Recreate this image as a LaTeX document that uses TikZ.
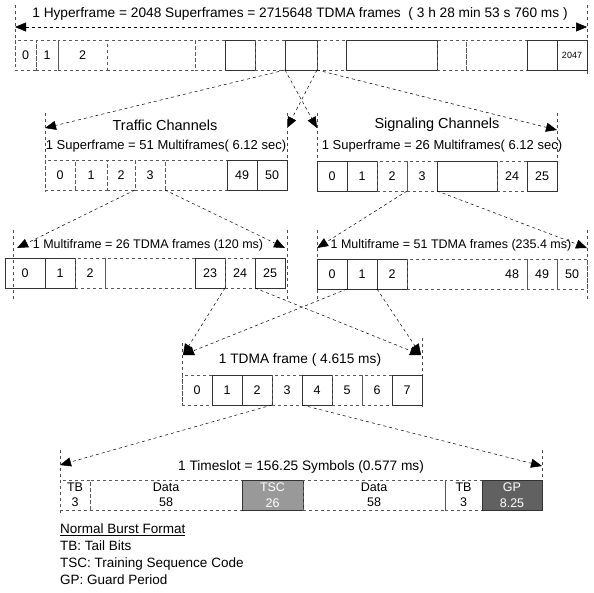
\documentclass[tikz,border=0pt]{standalone}
\usepackage{fontspec}
\setmainfont{Liberation Sans}
\usetikzlibrary{arrows.meta,positioning}
\tikzset{
  cell/.style={draw=black!80, line width=0.5pt, anchor=west, minimum height=30pt,
    inner sep=0pt, outer sep=0pt, font=\fontsize{12.5}{14}\selectfont},
  dcell/.style={cell, draw=black!65, dashed},
  burst/.style={cell, align=center, font=\fontsize{12.5}{15.5}\selectfont},
  head/.style={inner sep=1pt, font=\fontsize{#1}{#1}\selectfont},
  head/.default=13.5,
  bound/.style={draw=black!70, dashed, line width=0.4pt},
  arr/.style={-{Triangle[length=11pt,width=9pt]}, dashed, line width=0.5pt},
  darr/.style={{Triangle[length=11pt,width=9pt]}-{Triangle[length=11pt,width=9pt]}, dashed, line width=0.5pt}
}

\begin{document}
\begin{tikzpicture}[x=1pt, y=-1pt]
  \useasboundingbox (0,0) rectangle (594,592);

  % hyperframe
  \node[head=13.7] (hyp) at (300,14) {1 Hyperframe = 2048 Superframes = 2715648 TDMA frames \ ( 3 h 28 min 53 s 760 ms )};
  \coordinate (hypL) at (15,27);
  \coordinate (hypR) at (587,27);
  \draw[darr] (hypL) -- (hypR);
  \draw[bound] (15,5) -- (15,62);
  \draw[bound] (587,5) -- (587,75);
  \node[dcell, minimum width=21pt] (h0) at (15,55) {0};
  \node[dcell, minimum width=22pt, right=0pt of h0] (h1) {1};
  \node[dcell, minimum width=49pt, right=0pt of h1] (h2) {2};
  \node[dcell, minimum width=88pt, right=0pt of h2] (h3) {};
  \node[dcell, minimum width=30pt, right=0pt of h3] (h4) {};
  \node[cell, minimum width=30pt, right=0pt of h4] (h5) {};
  \node[dcell, minimum width=30pt, right=0pt of h5] (h6) {};
  \node[cell, minimum width=32pt, right=0pt of h6] (h7) {};
  \node[dcell, minimum width=29pt, right=0pt of h7] (h8) {};
  \node[cell, minimum width=91pt, right=0pt of h8] (h9) {};
  \node[dcell, minimum width=29pt, right=0pt of h9] (h10) {};
  \node[dcell, minimum width=61pt, right=0pt of h10] (h11) {};
  \node[cell, minimum width=30pt, right=0pt of h11] (h12) {};
  \node[cell, minimum width=30pt, right=0pt of h12, font=\fontsize{9}{10}\selectfont] (h13) {2047};

  \coordinate (tL) at (45,128);
  \coordinate (tR) at (287,128);
  \coordinate (sL) at (317,128);
  \coordinate (sR) at (557,130);
  \draw[arr] (h7.south west) -- (tL);
  \draw[arr] (h7.south west) -- (sL);
  \draw[arr] (h7.south east) -- (tR);
  \draw[arr] (h7.south east) -- (sR);

  % traffic superframe
  \draw[bound] (45,113) -- (45,192);
  \draw[bound] (287,113) -- (287,182);
  \node[head=14.5] (tch) at (165,125) {Traffic Channels};
  \node[head=13] (tsup) at (166,146) {1 Superframe = 51 Multiframes( 6.12 sec)};
  \node[dcell, minimum width=30pt] (t0) at (45,175) {0};
  \node[dcell, minimum width=32pt, right=0pt of t0] (t1) {1};
  \node[dcell, minimum width=28pt, right=0pt of t1] (t2) {2};
  \node[dcell, minimum width=30pt, right=0pt of t2] (t3) {3};
  \node[dcell, minimum width=62pt, right=0pt of t3] (t4) {};
  \node[cell, minimum width=30pt, right=0pt of t4] (t49) {49};
  \node[cell, minimum width=30pt, right=0pt of t49] (t50) {50};

  % signaling superframe
  \draw[bound] (317,113) -- (317,192);
  \draw[bound] (557,113) -- (557,192);
  \node[head=14.5] (sch) at (437,125) {Signaling Channels};
  \node[head=13] (ssup) at (442,146) {1 Superframe = 26 Multiframes( 6.12 sec)};
  \node[cell, minimum width=30pt] (s0) at (317,176) {0};
  \node[cell, minimum width=30pt, right=0pt of s0] (s1) {1};
  \node[dcell, minimum width=30pt, right=0pt of s1] (s2) {2};
  \node[dcell, minimum width=30pt, right=0pt of s2] (s3) {3};
  \node[cell, minimum width=60pt, right=0pt of s3] (s4) {};
  \node[dcell, minimum width=30pt, right=0pt of s4] (s24) {24};
  \node[cell, minimum width=30pt, right=0pt of s24] (s25) {25};

  \coordinate (mL) at (17,248);
  \coordinate (mR) at (285,248);
  \coordinate (nL) at (317,248);
  \coordinate (nR) at (587,248);
  \draw[arr] (t3.south west) -- (mL);
  \draw[arr] (t3.south east) -- (mR);
  \draw[arr] (s3.south west) -- (nL);
  \draw[arr] (s3.south east) -- (nR);

  % traffic multiframe
  \draw[bound] (13,230) -- (13,300);
  \draw[bound] (287,230) -- (287,300);
  \node[head=12.5] (tmul) at (148,245) {1 Multiframe = 26 TDMA frames (120 ms)};
  \node[cell, minimum width=40pt] (m0) at (5,273) {0};
  \node[cell, minimum width=30pt, right=0pt of m0] (m1) {1};
  \node[dcell, minimum width=30pt, right=0pt of m1] (m2) {2};
  \node[dcell, minimum width=90pt, right=0pt of m2] (m3) {};
  \node[cell, minimum width=30pt, right=0pt of m3] (m23) {23};
  \node[dcell, minimum width=30pt, right=0pt of m23] (m24) {24};
  \node[cell, minimum width=30pt, right=0pt of m24] (m25) {25};

  % signaling multiframe
  \draw[bound] (317,230) -- (317,300);
  \draw[bound] (587,230) -- (587,300);
  \node[head=12.5] (smul) at (451,245) {1 Multiframe = 51 TDMA frames (235.4 ms)};
  \node[cell, minimum width=30pt] (n0) at (317,274) {0};
  \node[cell, minimum width=30pt, right=0pt of n0] (n1) {1};
  \node[cell, minimum width=30pt, right=0pt of n1] (n2) {2};
  \node[dcell, minimum width=120pt, right=0pt of n2] (n3) {\hspace*{90pt}48};
  \node[dcell, minimum width=30pt, right=0pt of n3] (n49) {49};
  \node[dcell, minimum width=30pt, right=0pt of n49] (n50) {50};

  \coordinate (fL) at (183,355);
  \coordinate (fR) at (421,355);
  \draw[arr] (m24.south west) -- (fL);
  \draw[arr] (m24.south east) -- (fR);
  \draw[arr] (n1.south west) -- (fL);
  \draw[arr] (n1.south east) -- (fR);

  % TDMA frame
  \draw[bound] (182,343) -- (182,407);
  \draw[bound] (422,338) -- (422,407);
  \node[head=13.7] (tdma) at (300,360) {1 TDMA frame ( 4.615 ms)};
  \node[dcell, minimum width=30pt] (f0) at (182,390) {0};
  \node[cell, minimum width=30pt, right=0pt of f0] (f1) {1};
  \node[cell, minimum width=30pt, right=0pt of f1] (f2) {2};
  \node[dcell, minimum width=30pt, right=0pt of f2] (f3) {3};
  \node[cell, minimum width=30pt, right=0pt of f3] (f4) {4};
  \node[dcell, minimum width=30pt, right=0pt of f4] (f5) {5};
  \node[dcell, minimum width=30pt, right=0pt of f5] (f6) {6};
  \node[cell, minimum width=30pt, right=0pt of f6] (f7) {7};

  \coordinate (bL) at (60,465);
  \coordinate (bR) at (542,466);
  \draw[arr] (f3.south west) -- (bL);
  \draw[arr] (f3.south east) -- (bR);

  % timeslot / normal burst
  \draw[bound] (60,450) -- (60,515);
  \draw[bound] (542,450) -- (542,482);
  \node[head=13.7] (slot) at (301,467) {1 Timeslot = 156.25 Symbols (0.577 ms)};
  \node[burst, dashed, draw=black!65, minimum width=30pt] (b0) at (60,495) {TB\\3};
  \node[burst, dashed, draw=black!65, minimum width=152pt, right=0pt of b0] (b1) {Data\\58};
  \node[burst, fill=black!40, text=white, minimum width=61pt, right=0pt of b1] (b2) {TSC\\26};
  \node[burst, dashed, draw=black!65, minimum width=142pt, right=0pt of b2] (b3) {Data\\58};
  \node[burst, dashed, draw=black!65, minimum width=37pt, right=0pt of b3] (b4) {TB\\3};
  \node[burst, fill=black!62, text=white, minimum width=60pt, right=0pt of b4] (b5) {GP\\8.25};

  \node[anchor=north west, align=left, inner sep=0pt, font=\fontsize{13.5}{17}\selectfont] (legend) at (60,524)
    {\underline{Normal Burst Format}\\TB: Tail Bits\\TSC: Training Sequence Code\\GP: Guard Period};
\end{tikzpicture}
\end{document}
